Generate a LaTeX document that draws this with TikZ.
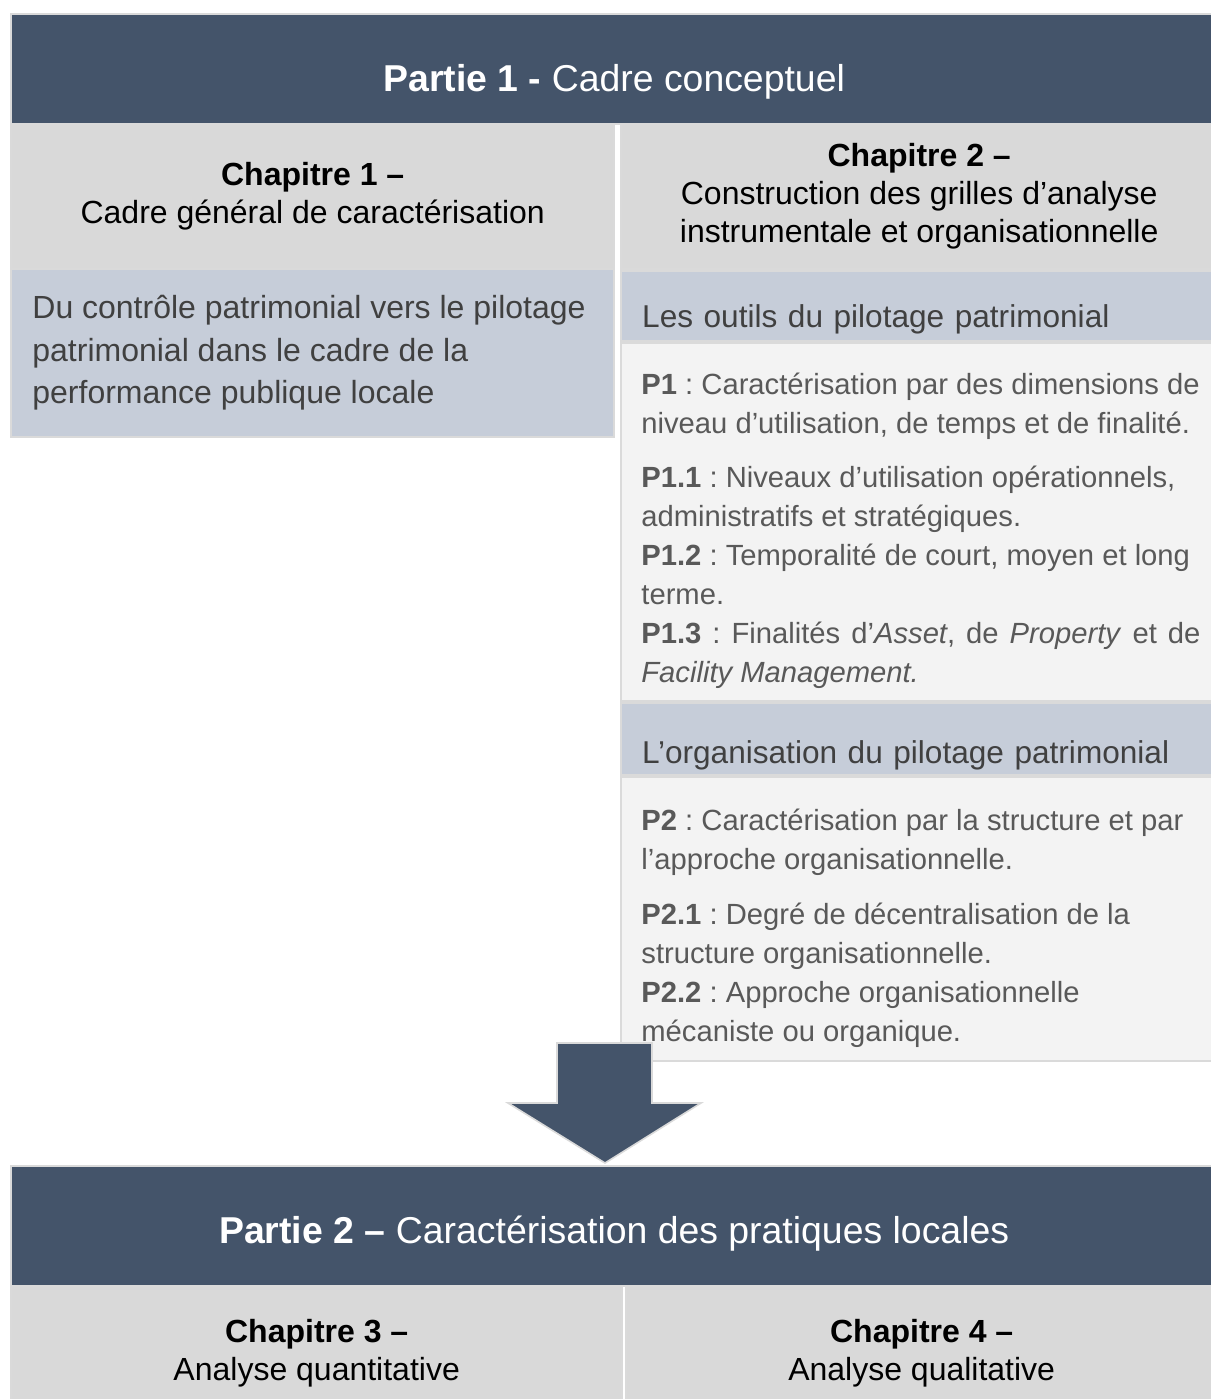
\documentclass[tikz,border=0pt]{standalone}
\usepackage{fontspec}
\setmainfont{Liberation Sans}
\frenchspacing
\definecolor{hdrblue}{HTML}{44546A}
\definecolor{chapgray}{HTML}{D9D9D9}
\definecolor{paleblue}{HTML}{C6CDD9}
\definecolor{palegray}{HTML}{F3F3F3}
\definecolor{rimgray}{HTML}{DADADA}
\definecolor{txtgray}{HTML}{404040}
\definecolor{bodygray}{HTML}{595959}
\begin{document}
\begin{tikzpicture}[x=0.5pt,y=-0.5pt,
        cell/.style={draw=rimgray,line width=1.2pt,anchor=north west,inner sep=0pt},
        partie/.style={cell,fill=hdrblue,text=white,minimum width=603pt,font=\fontsize{18.7}{22}\selectfont},
        chapitre/.style={cell,fill=chapgray,minimum height=72.5pt,align=center,font=\fontsize{16}{19}\selectfont},
        souspart/.style={cell,fill=paleblue,text width=277pt,inner xsep=10.5pt,align=left,text=txtgray,font=\fontsize{15.8}{19}\selectfont},
        notes/.style={anchor=north west,inner sep=0pt,align=left,text=bodygray,font=\fontsize{14.6}{19.5}\selectfont}]
    \useasboundingbox (0,0) rectangle (1211,1399);
    \fill[white] (0,0) rectangle (1211,1399);
    % partie 1
    \node[partie,text height=38.5pt,text depth=16.5pt] (part1) at (10,13) {\textbf{Partie 1 -} Cadre conceptuel};
    \node[chapitre,minimum width=301.5pt] (chap1) at (10,123) {\textbf{Chapitre 1 --}\\Cadre général de caractérisation};
    \node[chapitre,minimum width=298pt] (chap2) at (620,123) {\textbf{Chapitre 2 --}\\Construction des grilles d’analyse\\instrumentale et organisationnelle};
    \node[cell,fill=paleblue,minimum width=301.5pt,minimum height=84pt] (intro) at (10,268) {};
    \node[anchor=north west,inner sep=0pt,align=left,text=txtgray,font=\fontsize{16}{21.25}\selectfont] (introtxt) at ([shift={(22,27)}]intro.north west) {Du contrôle patrimonial vers le pilotage\\patrimonial dans le cadre de la\\performance publique locale};
    % outils
    \node[souspart,text height=28pt,text depth=7pt] (tools) at (620,270) {Les outils du pilotage patrimonial};
    \node[cell,fill=palegray,minimum width=298pt,minimum height=179pt] (toolsbox) at (620,342) {};
    \node[notes] (toolstxt) at ([shift={(21,31)}]toolsbox.north west) {\textbf{P1} : Caractérisation par des dimensions de\\niveau d’utilisation, de temps et de finalité.\\[7.5pt]\textbf{P1.1} : Niveaux d’utilisation opérationnels,\\administratifs et stratégiques.\\\textbf{P1.2} : Temporalité de court, moyen et long\\terme.\\\makebox[279.5pt][s]{\textbf{P1.3} : Finalités d’\textit{Asset}, de \textit{Property} et de}\\\textit{Facility Management.}};
    % organisation
    \node[souspart,text height=30pt,text depth=6pt] (orga) at (620,702) {L’organisation du pilotage patrimonial};
    \node[cell,fill=palegray,minimum width=298pt,minimum height=142pt] (orgabox) at (620,776) {};
    \node[notes] (orgatxt) at ([shift={(21,33)}]orgabox.north west) {\textbf{P2} : Caractérisation par la structure et par\\l’approche organisationnelle.\\[8pt]\textbf{P2.1} : Degré de décentralisation de la\\structure organisationnelle.\\\textbf{P2.2} : Approche organisationnelle\\mécaniste ou organique.};
    % fleche
    \coordinate (tip) at (605,1163);
    \filldraw[fill=hdrblue,draw=rimgray,line width=0.8pt] (557,1043) -- (652,1043) -- (652,1103) -- (701,1103) -- (tip) -- (508,1103) -- (557,1103) -- cycle;
    % partie 2
    \node[partie,text height=38.5pt,text depth=21.5pt] (part2) at (10,1165) {\textbf{Partie 2 --} Caractérisation des pratiques locales};
    \node[chapitre,minimum width=305.5pt,minimum height=67.5pt] (chap3) at (10,1285) {\textbf{Chapitre 3 --}\\Analyse quantitative};
    \node[chapitre,minimum width=295.5pt,minimum height=67.5pt] (chap4) at (625,1285) {\textbf{Chapitre 4 --}\\Analyse qualitative};
\end{tikzpicture}
\end{document}
